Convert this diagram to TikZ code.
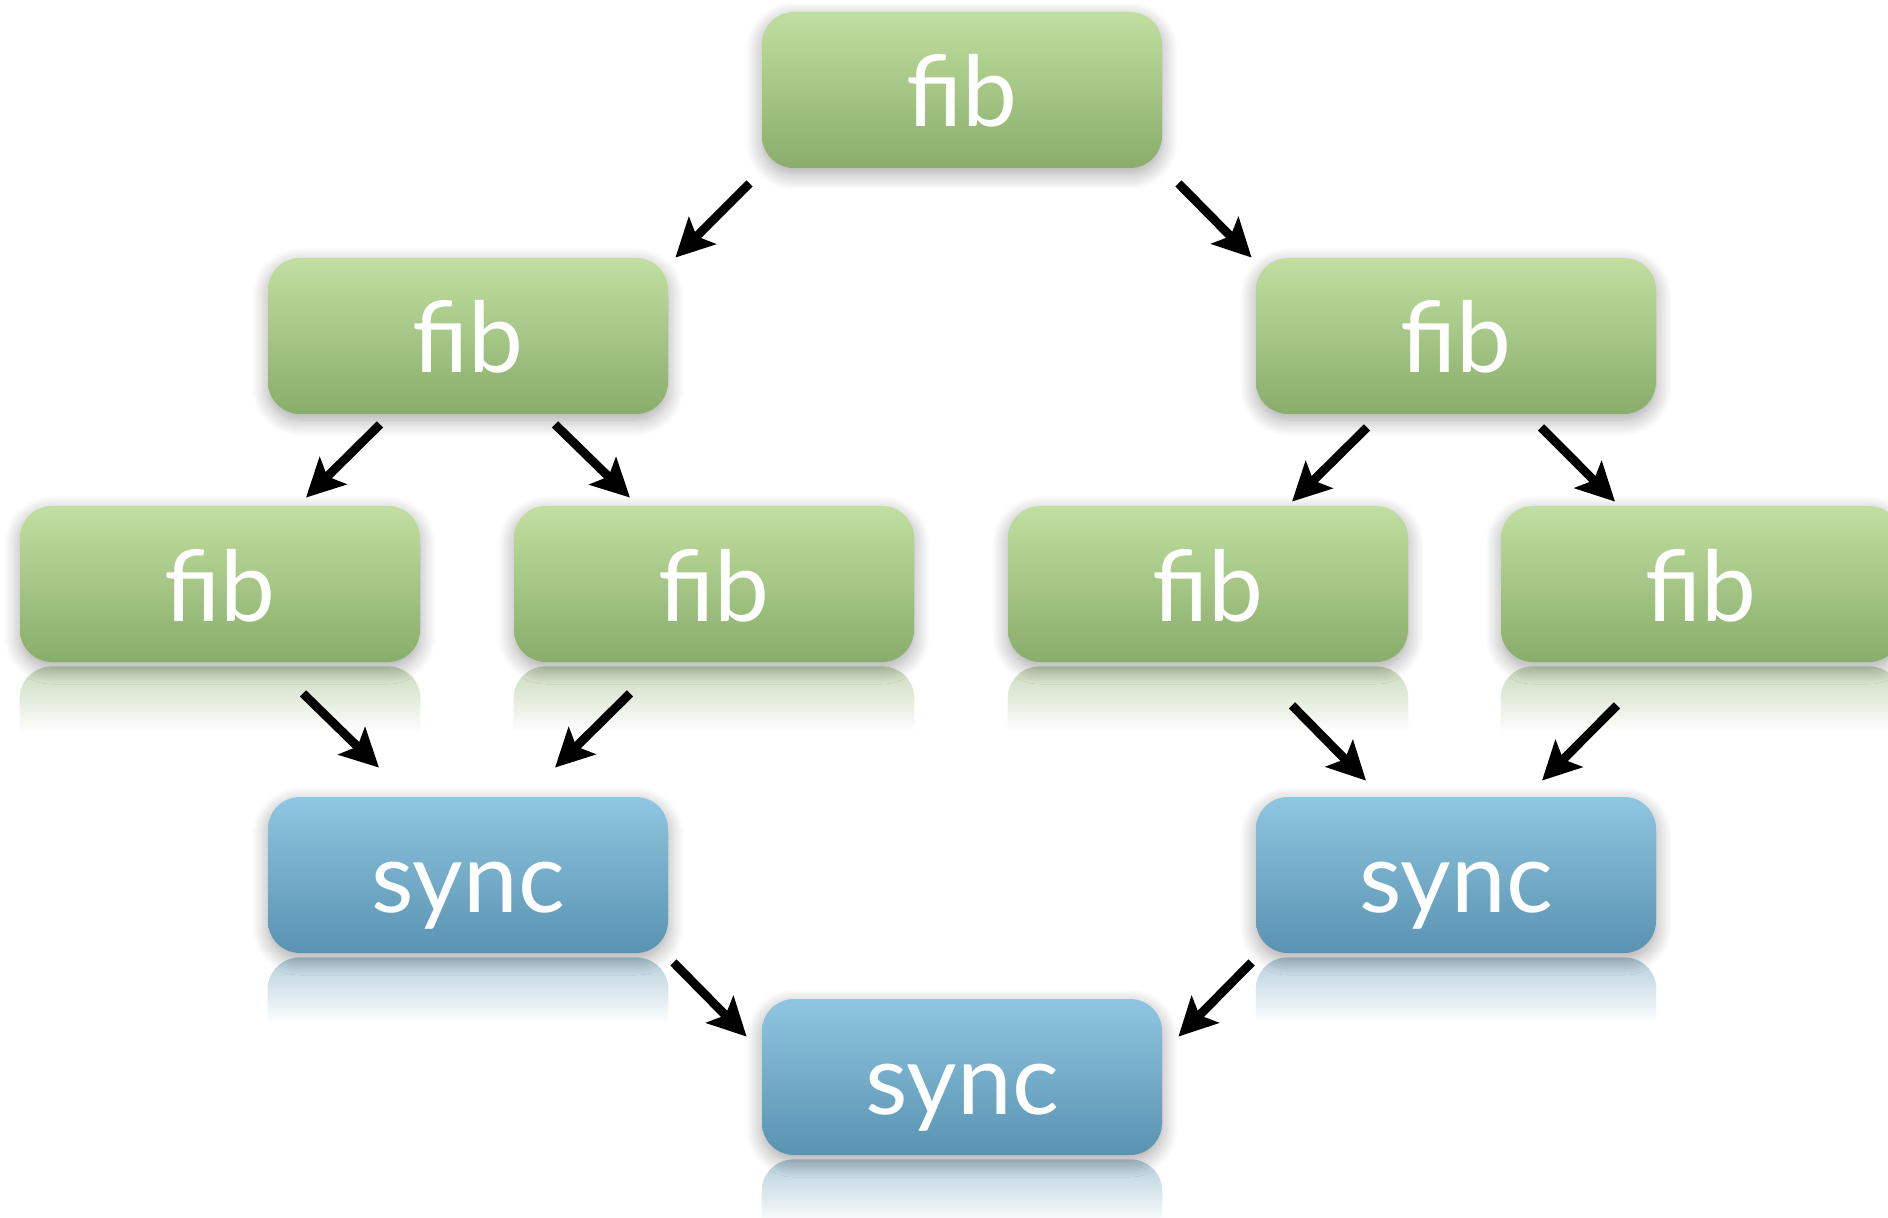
\documentclass[tikz,border=0pt]{standalone}
\usepackage{fontspec}
\setmainfont{Lato}
\usetikzlibrary{arrows.meta,calc,shadows.blur,fadings,backgrounds}

\definecolor{fibtop}{RGB}{193,223,160}
\definecolor{fibbot}{RGB}{137,173,107}
\definecolor{synctop}{RGB}{143,198,225}
\definecolor{syncbot}{RGB}{89,147,177}

\tikzfading[name=reflfade, top color=transparent!55, bottom color=transparent!100]

\tikzset{
  box/.style={rounded corners=16pt, minimum width=200pt, minimum height=78pt,
    inner sep=0pt, text height=37pt, text depth=0pt, text=white,
    font=\fontsize{49}{60}\selectfont,
    blur shadow={shadow xshift=0pt, shadow yshift=-3pt, shadow blur radius=8pt,
      shadow opacity=35, shadow blur steps=12}},
  fibbox/.style={box, top color=fibtop, bottom color=fibbot},
  syncbox/.style={box, top color=synctop, bottom color=syncbot},
  arr/.style={line width=4.4pt, -{Stealth[length=19pt, width=19pt, inset=4pt]}},
}

% mirrored, fading copy of a box below it
\newcommand\boxreflection[2]{%
  \fill[#2, path fading=reflfade]
    ($(#1.south west)+(0,70)$) [rounded corners=16pt]
    -- ($(#1.south west)+(0,4)$) -- ($(#1.south east)+(0,4)$) [sharp corners]
    -- ($(#1.south east)+(0,70)$) -- cycle;}

\begin{document}
\begin{tikzpicture}[x=0.5pt, y=-0.5pt]
  \useasboundingbox (0,0) rectangle (1888,1218);
  \clip (0,0) rectangle (1888,1218);

  % spawn tree
  \node[fibbox] (top) at (962,90) {fib};
  \node[fibbox] (la) at (468,336) {fib};
  \node[fibbox] (lb) at (1456,336) {fib};
  \node[fibbox] (fa) at (220,584) {fib};
  \node[fibbox] (fb) at (714,584) {fib};
  \node[fibbox] (fc) at (1208,584) {fib};
  \node[fibbox] (fd) at (1701,584) {fib};

  % joins
  \node[syncbox] (sa) at (468,875) {sync};
  \node[syncbox] (sb) at (1456,875) {sync};
  \node[syncbox] (sc) at (962,1077) {sync};

  \begin{scope}[on background layer]
    \boxreflection{fa}{fibbot}
    \boxreflection{fb}{fibbot}
    \boxreflection{fc}{fibbot}
    \boxreflection{fd}{fibbot}
    \boxreflection{sa}{syncbot}
    \boxreflection{sb}{syncbot}
    \boxreflection{sc}{syncbot}
  \end{scope}

  % spawn edges
  \draw[arr] ($(top.south west)+(-12,15)$) -- ($(la.north east)+(7,0)$);
  \draw[arr] ($(top.south east)+(16,15)$) -- ($(lb.north west)+(-4,0)$);
  \draw[arr] ($(la.south)+(-88,10)$) -- ($(fa.north)+(86,-8)$);
  \draw[arr] ($(la.south)+(87,10)$) -- ($(fb.north)+(-84,-8)$);
  \draw[arr] ($(lb.south)+(-89,13)$) -- ($(fc.north)+(84,-4)$);
  \draw[arr] ($(lb.south)+(85,13)$) -- ($(fd.north)+(-86,-4)$);

  % join edges
  \draw[arr] ($(fa.south)+(83,31)$) -- ($(sa.north)+(-89,-29)$);
  \draw[arr] ($(fb.south)+(-84,31)$) -- ($(sa.north)+(87,-29)$);
  \draw[arr] ($(fc.south)+(84,43)$) -- ($(sb.north)+(-90,-16)$);
  \draw[arr] ($(fd.south)+(-84,43)$) -- ($(sb.north)+(86,-16)$);
  \draw[arr] ($(sa.south east)+(5,9)$) -- ($(sc.north west)+(-15,38)$);
  \draw[arr] ($(sb.south west)+(-4,9)$) -- ($(sc.north east)+(16,38)$);
\end{tikzpicture}
\end{document}
